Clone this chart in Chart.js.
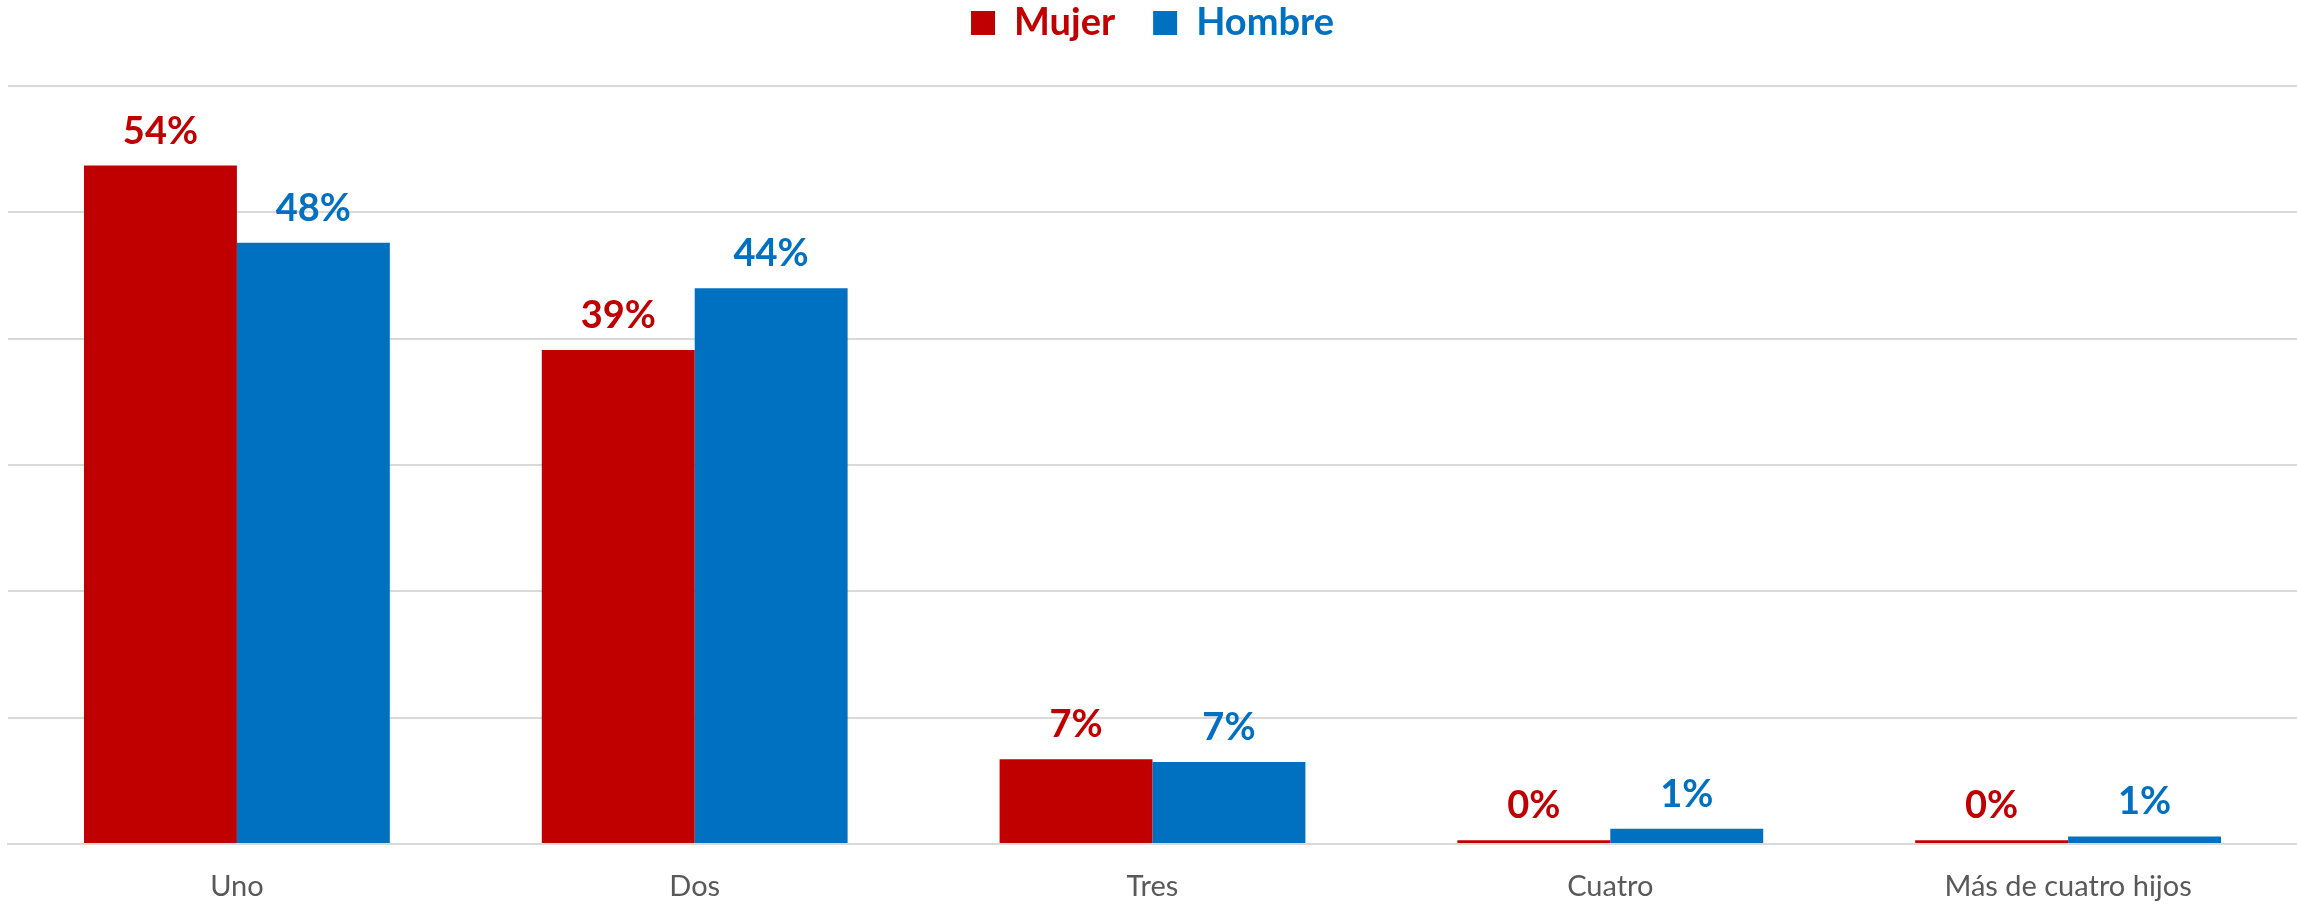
<!DOCTYPE html>
<html>
<head>
<meta charset="utf-8">
<script src="https://cdn.jsdelivr.net/npm/chart.js@4.4.0/dist/chart.umd.min.js"></script>
<style>
  html, body { margin: 0; padding: 0; background: #fff; }
  #wrap { width: 2297px; height: 904px; position: relative; }
</style>
</head>
<body>
<div id="wrap"><canvas id="chart"></canvas></div>
<script>
// Datos
const categorias = ['Uno', 'Dos', 'Tres', 'Cuatro', 'Más de cuatro hijos'];
const mujer = [0.537, 0.391, 0.067, 0.003, 0.003];
const hombre = [0.476, 0.440, 0.065, 0.012, 0.006];
const yTicks = [0, 0.1, 0.2, 0.3, 0.4, 0.5, 0.6];

const ROJO = '#C00000';
const AZUL = '#0070C0';
const FONT = 'Lato, "Open Sans", sans-serif';

// Etiquetas encima de cada barra
const valueLabels = {
  id: 'valueLabels',
  afterDatasetsDraw(chart) {
    const ctx = chart.ctx;
    ctx.save();
    ctx.font = 'bold 38px ' + FONT;
    ctx.textAlign = 'center';
    ctx.textBaseline = 'alphabetic';
    chart.data.datasets.forEach((ds, i) => {
      chart.getDatasetMeta(i).data.forEach((bar, j) => {
        ctx.fillStyle = ds.backgroundColor;
        ctx.fillText(Math.round(ds.data[j] * 100) + '%', bar.x, bar.y - 22);
      });
    });
    ctx.restore();
  }
};

// Alto fijo de la leyenda para que el área del gráfico empiece en y=86
const legendHeight = {
  id: 'legendHeight',
  afterInit(chart) {
    const legend = chart.legend;
    if (!legend) return;
    const fit = legend.fit;
    legend.fit = function () {
      fit.call(this);
      this.height = 120;
    };
  }
};

Chart.defaults.font.family = FONT;

new Chart(document.getElementById('chart'), {
  type: 'bar',
  data: {
    labels: categorias,
    datasets: [
      { label: 'Mujer', data: mujer, backgroundColor: ROJO, borderWidth: 0 },
      { label: 'Hombre', data: hombre, backgroundColor: AZUL, borderWidth: 0 }
    ]
  },
  options: {
    responsive: true,
    maintainAspectRatio: false,
    devicePixelRatio: 1,
    animation: false,
    layout: { padding: { left: 8, right: 0, top: -34, bottom: 0 } },
    datasets: { bar: { categoryPercentage: 0.668, barPercentage: 1 } },
    plugins: {
      tooltip: { enabled: false },
      legend: {
        position: 'top',
        labels: {
          boxWidth: 24,
          boxHeight: 24,
          padding: 38,
          font: { size: 38, weight: 'bold' },
          generateLabels(chart) {
            return chart.data.datasets.map((ds, i) => ({
              text: ds.label,
              fillStyle: ds.backgroundColor,
              strokeStyle: ds.backgroundColor,
              lineWidth: 0,
              fontColor: ds.backgroundColor,
              hidden: false,
              datasetIndex: i
            }));
          }
        }
      }
    },
    scales: {
      x: {
        grid: { display: false, drawTicks: false },
        border: { display: true, color: '#d9d9d9', width: 2 },
        ticks: { color: '#595959', font: { size: 29 }, padding: 25 },
        afterFit(scale) { scale.height = 60; }
      },
      y: {
        min: 0,
        max: yTicks[yTicks.length - 1],
        afterBuildTicks(axis) { axis.ticks = yTicks.map(v => ({ value: v })); },
        grid: { color: '#d9d9d9', lineWidth: 2, drawTicks: false },
        border: { display: false },
        ticks: { display: false }
      }
    }
  },
  plugins: [valueLabels, legendHeight]
});
</script>
</body>
</html>
